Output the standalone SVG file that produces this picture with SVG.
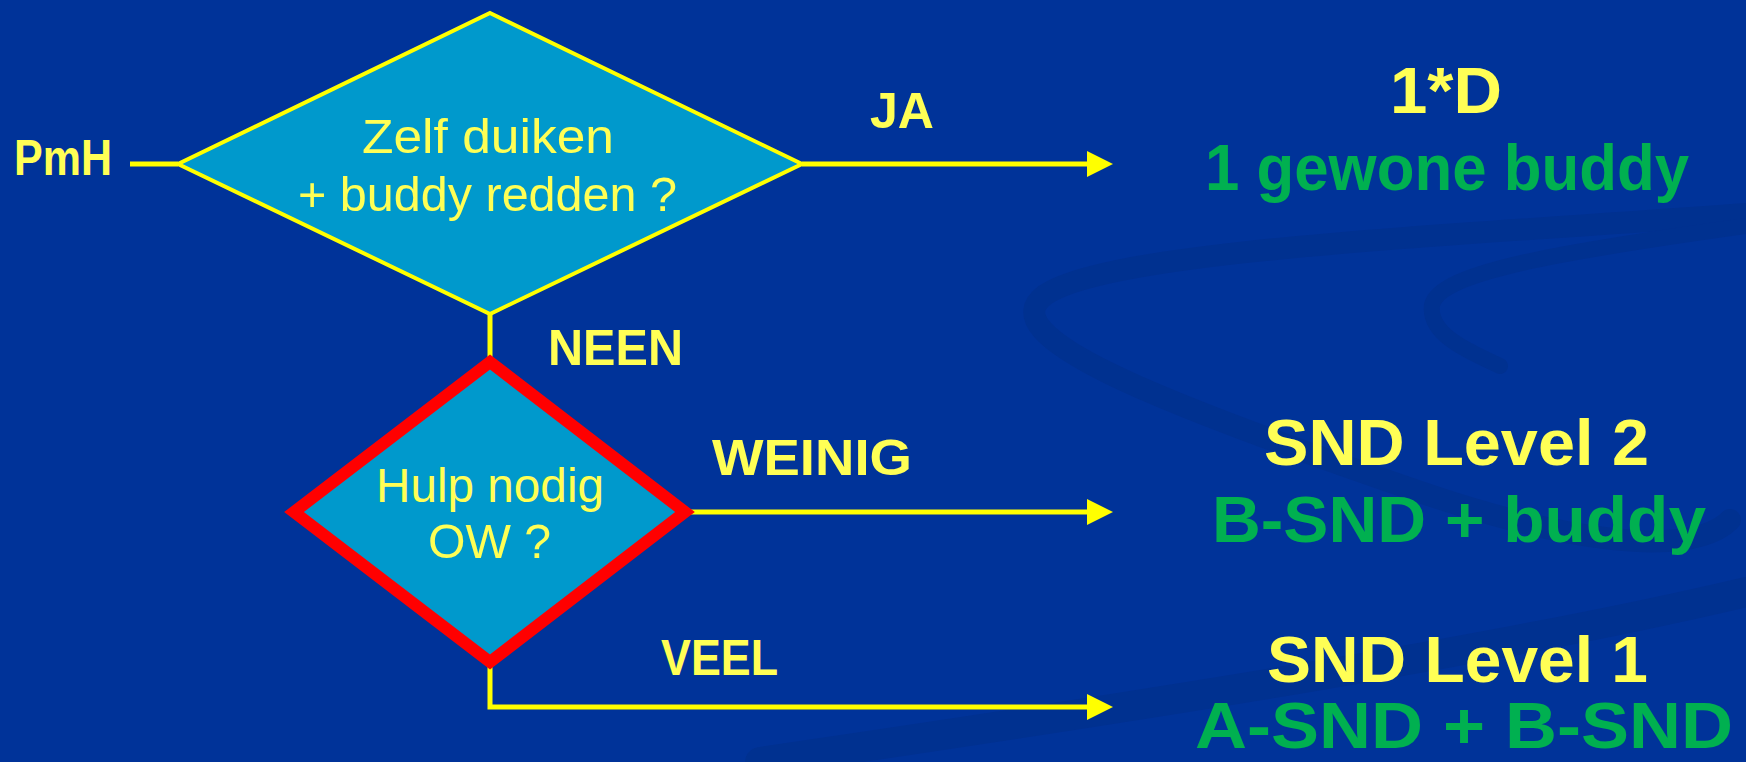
<svg xmlns="http://www.w3.org/2000/svg" width="1746" height="762" viewBox="0 0 1746 762">
  <defs>
    <style>
      .bg { fill: #003399; }
      .swoosh { fill: none; stroke: #003190; stroke-linecap: round; }
      .conn { stroke: #FFFF00; stroke-width: 5; fill: none; }
      .head { fill: #FFFF00; }
      .lbl { font-family: "Liberation Sans", Arial, sans-serif; font-weight: bold; font-size: 50px; fill: #FFFF55; }
      .q { font-family: "Liberation Sans", Arial, sans-serif; font-size: 48px; fill: #FFFF55; }
      .res { font-family: "Liberation Sans", Arial, sans-serif; font-weight: bold; font-size: 65px; }
      .yel { fill: #FFFF55; }
      .grn { fill: #00B050; }
    </style>
  </defs>

  <rect class="bg" x="0" y="0" width="1746" height="762"/>

  <g id="background-swooshes">
    <path class="swoosh" stroke-width="22" d="M1746,214 C1450,236 1110,250 1045,295 C990,335 1150,400 1420,492 C1560,540 1690,560 1730,520"/>
    <path class="swoosh" stroke-width="16" d="M1746,226 C1560,252 1440,272 1432,305 C1428,335 1470,352 1500,366"/>
    <path class="swoosh" stroke-width="30" d="M1746,592 C1500,650 1150,705 760,762"/>
  </g>

  <g id="connectors">
    <line class="conn" x1="130" y1="164" x2="178" y2="164"/>
    <line class="conn" x1="802" y1="164" x2="1090" y2="164"/>
    <polygon class="head" points="1087,151 1113,164 1087,177"/>
    <line class="conn" x1="490" y1="314" x2="490" y2="360" stroke-width="4"/>
    <line class="conn" x1="683" y1="512" x2="1090" y2="512"/>
    <polygon class="head" points="1087,499 1113,512 1087,525"/>
    <polyline class="conn" points="490,662 490,707 1090,707"/>
    <polygon class="head" points="1087,694 1113,707 1087,720"/>
    <text class="lbl" x="870" y="128" textLength="64" lengthAdjust="spacingAndGlyphs">JA</text>
    <text class="lbl" x="548" y="365" textLength="135" lengthAdjust="spacingAndGlyphs">NEEN</text>
    <text class="lbl" x="712" y="475" textLength="200" lengthAdjust="spacingAndGlyphs">WEINIG</text>
    <text class="lbl" x="661" y="675" textLength="117" lengthAdjust="spacingAndGlyphs">VEEL</text>
  </g>

  <g id="start-pmh">
    <text class="lbl" x="14" y="175" textLength="98" lengthAdjust="spacingAndGlyphs">PmH</text>
  </g>

  <g id="decision-zelf-duiken">
    <polygon points="490,13 802,164 490,314 178,164" fill="#0099CC" stroke="#FFFF00" stroke-width="4"/>
    <text class="q" x="362" y="153" textLength="252" lengthAdjust="spacingAndGlyphs">Zelf duiken</text>
    <text class="q" x="298" y="211" textLength="379" lengthAdjust="spacingAndGlyphs">+ buddy redden ?</text>
  </g>

  <g id="decision-hulp-nodig">
    <polygon points="490,362 685,512 490,662 294,512" fill="#0099CC" stroke="#FF0000" stroke-width="12"/>
    <text class="q" x="376" y="502" textLength="228" lengthAdjust="spacingAndGlyphs">Hulp nodig</text>
    <text class="q" x="428" y="558" textLength="123" lengthAdjust="spacingAndGlyphs">OW ?</text>
  </g>

  <g id="result-1d">
    <text class="res yel" x="1390" y="113" textLength="112" lengthAdjust="spacingAndGlyphs">1*D</text>
    <text class="res grn" x="1205" y="190" textLength="484" lengthAdjust="spacingAndGlyphs">1 gewone buddy</text>
  </g>

  <g id="result-snd-level-2">
    <text class="res yel" x="1264" y="465" textLength="385" lengthAdjust="spacingAndGlyphs">SND Level 2</text>
    <text class="res grn" x="1212" y="542" textLength="494" lengthAdjust="spacingAndGlyphs">B-SND + buddy</text>
  </g>

  <g id="result-snd-level-1">
    <text class="res yel" x="1267" y="682" textLength="381" lengthAdjust="spacingAndGlyphs">SND Level 1</text>
    <text class="res grn" x="1195" y="748" font-size="60" textLength="538" lengthAdjust="spacingAndGlyphs">A-SND + B-SND</text>
  </g>
</svg>
